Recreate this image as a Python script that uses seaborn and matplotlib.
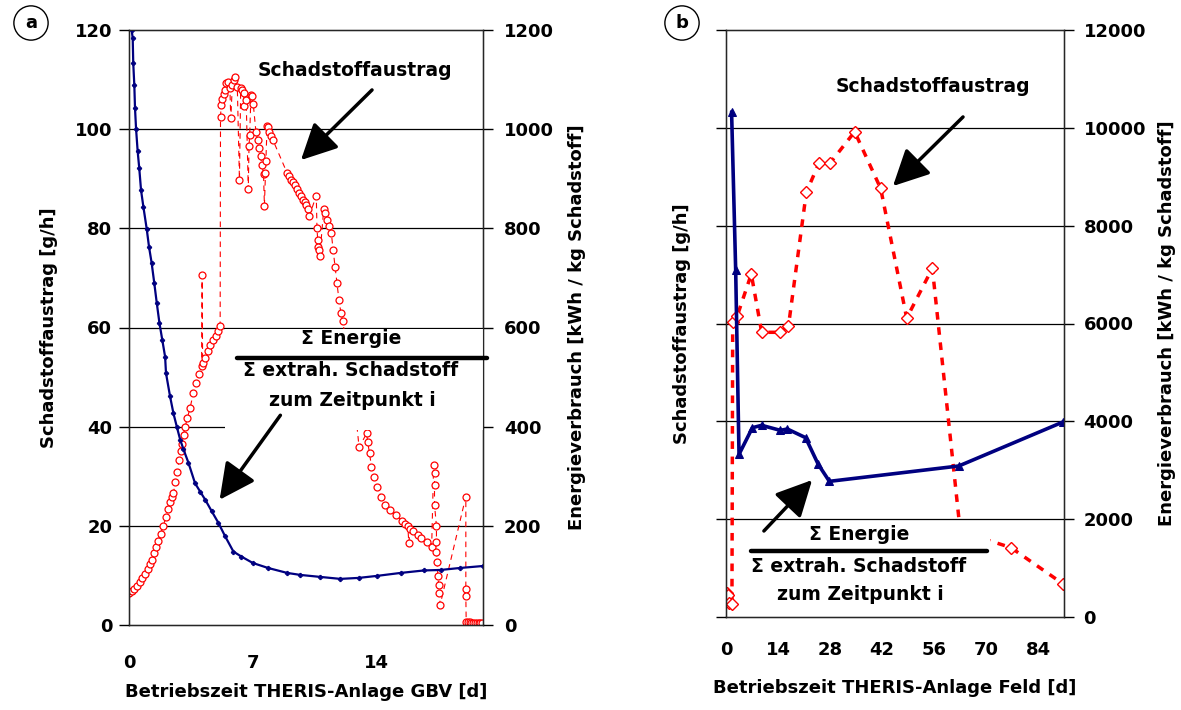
import numpy as np
import pandas as pd
import matplotlib
matplotlib.use("Agg")
import matplotlib.pyplot as plt
import seaborn as sns
from matplotlib.patches import Rectangle, FancyArrowPatch
from matplotlib.lines import Line2D

sns.set_style("white")
plt.rcParams['font.family'] = ['DejaVu Sans']
plt.rcParams['font.weight'] = 'bold'
plt.rcParams['axes.labelweight'] = 'bold'
plt.rcParams['text.color'] = 'black'
plt.rcParams['axes.labelcolor'] = 'black'
plt.rcParams['xtick.color'] = 'black'
plt.rcParams['ytick.color'] = 'black'

# ---- panel a: GBV ----
# Schadstoffaustrag [g/h] (red circles)
gbv_red_t = [0.0, 0.15, 0.3, 0.45, 0.6, 0.75, 0.9, 1.05, 1.18, 1.28, 1.4, 1.52, 1.65, 1.78, 1.94,
             2.08, 2.2, 2.32, 2.43, 2.51, 2.62, 2.72, 2.83, 2.92, 3.0, 3.08, 3.17, 3.3, 3.45, 3.64,
             3.8, 3.95, 4.1, 4.13, 4.16, 4.3, 4.45, 4.6, 4.75, 4.9, 5.05, 5.15,
             5.17, 5.21, 5.28, 5.36, 5.42, 5.49, 5.62, 5.70, 5.75, 5.84, 5.92, 6.0, 6.12, 6.24,
             6.31, 6.4, 6.48, 6.52, 6.62, 6.74, 6.78, 6.82, 6.89, 6.95, 7.02, 7.17, 7.26, 7.34,
             7.43, 7.52, 7.6, 7.65, 7.71, 7.73, 7.8, 7.86, 7.93, 8.03, 8.12,
             8.94, 9.05, 9.16, 9.27, 9.37, 9.48, 9.59, 9.7, 9.81, 9.92, 10.02, 10.13, 10.18,
             10.58, 10.62, 10.66, 10.7, 10.75, 10.78, 11.0, 11.1, 11.21, 11.32, 11.43, 11.53,
             11.64, 11.75, 11.86, 11.97, 12.07, 12.6,
             13.0, 13.43, 13.48, 13.59, 13.7, 13.87, 14.02, 14.23, 14.45, 14.77, 15.1, 15.42,
             15.6, 15.75, 15.81, 15.9, 16.07, 16.3, 16.5, 16.82, 17.1,
             17.21, 17.26, 17.26, 17.26, 17.37, 17.37, 17.37, 17.41, 17.45, 17.5, 17.54, 17.58,
             19.03, 19.03, 19.03, 19.05, 19.15, 19.25, 19.35, 19.45, 19.55, 19.65, 19.75, 19.85, 19.95]
gbv_red_val = [6.4, 6.8, 7.3, 7.9, 8.6, 9.4, 10.2, 11.2, 12.3, 13.2, 14.5, 15.7, 17.0, 18.4, 20.0,
               21.8, 23.3, 24.8, 25.8, 26.6, 28.8, 30.8, 33.3, 35.0, 36.5, 38.3, 40.0, 41.8, 43.8, 46.8,
               48.8, 50.6, 52.3, 70.5, 52.8, 53.8, 55.3, 56.4, 57.4, 58.3, 59.3, 60.3,
               102.5, 104.9, 106.0, 107.0, 108.0, 109.3, 109.5, 108.3, 102.2, 108.9, 109.9, 110.6, 108.5, 89.8,
               108.3, 107.9, 107.2, 104.7, 105.8, 87.9, 96.6, 98.9, 106.9, 106.6, 105.1, 99.5, 97.9, 96.2,
               94.5, 92.7, 91.0, 84.6, 91.1, 93.6, 100.7, 100.4, 99.5, 98.7, 97.9,
               91.1, 90.6, 89.8, 89.3, 88.8, 88.0, 87.1, 86.5, 85.8, 85.3, 84.8, 83.8, 82.4,
               86.6, 80.1, 77.7, 76.3, 75.7, 74.4, 83.8, 83.1, 81.7, 80.4, 79.1, 75.7,
               72.3, 69.0, 65.6, 63.0, 61.3, 50.0,
               35.8, 38.7, 37.0, 34.6, 31.9, 29.9, 27.9, 25.9, 24.2, 23.2, 22.2, 20.9,
               20.3, 19.9, 16.6, 19.4, 18.9, 18.2, 17.5, 16.8, 15.8,
               32.3, 30.6, 28.3, 24.2, 20.0, 16.8, 14.8, 12.8, 9.8, 8.1, 6.4, 4.1,
               25.9, 7.2, 5.9, 0.7, 0.6, 0.6, 0.5, 0.5, 0.4, 0.4, 0.4, 0.4, 0.5]

# Energieverbrauch [kWh / kg Schadstoff] (blue)
gbv_blue_t = [0.15, 0.21, 0.24, 0.3, 0.34, 0.4, 0.49, 0.58, 0.68, 0.81, 1.0, 1.13, 1.28, 1.43,
              1.57, 1.72, 1.88, 2.04, 2.09, 2.32, 2.51, 2.7, 2.89, 3.07, 3.36, 3.73, 4.02, 4.3,
              4.68, 5.05, 5.43, 5.9, 6.35, 7.0, 7.86, 8.94, 9.68, 10.8, 11.94, 12.98, 14.0,
              15.34, 16.66, 17.6, 18.7, 20.0]
gbv_blue_val = [1200, 1183, 1133, 1089, 1042, 1000, 955, 921, 877, 844, 799, 763, 730, 689,
                649, 609, 575, 541, 508, 461, 427, 400, 374, 355, 327, 286, 269, 253,
                229, 206, 179, 148, 138, 125, 115, 105, 101, 97, 93, 95, 99,
                105, 110, 111, 115, 119]

# ---- panel b: Feld ----
feld_red_t = [0.3, 0.6, 0.8, 1.6, 1.8, 3.0, 6.8, 9.6, 14.6, 16.8, 21.6, 25.0, 28.0, 34.6,
              41.6, 48.6, 55.5, 63.0, 76.6, 90.6]
feld_red_val = [4.9, 4.4, 2.9, 2.7, 60.3, 61.5, 70.1, 58.2, 58.2, 59.5, 86.8, 92.8, 92.8, 99.2,
                87.6, 61.1, 71.3, 17.5, 14.2, 6.8]

feld_blue_t = [1.5, 2.6, 3.5, 7.1, 9.6, 14.6, 16.5, 21.4, 24.8, 27.8, 62.6, 90.6]
feld_blue_val = [10330, 7100, 3325, 3870, 3918, 3816, 3843, 3666, 3121, 2773, 3087, 3986]

W, H = 1181, 710


def fpos(x, y):
    return x / W, 1 - y / H


fig = plt.figure(figsize=(W / 100, H / 100), dpi=100)

ax_a = fig.add_axes([129 / W, 1 - 625 / H, 354 / W, 595 / H])
ax_b = fig.add_axes([726 / W, 1 - 617 / H, 338 / W, 587 / H])

for ax in (ax_a, ax_b):
    for y in range(20, 120, 20):
        ax.axhline(y, color='black', lw=0.9, zorder=1)
    ax.set_ylim(0, 120)
    ax.set_yticks(range(0, 121, 20))
    for s in ax.spines.values():
        s.set_visible(True)
        s.set_color('black')
        s.set_linewidth(1.0)

# panel a
sns.lineplot(x=gbv_red_t, y=gbv_red_val, ax=ax_a, sort=False, estimator=None,
             color='red', linestyle=(0, (5, 4)), linewidth=0.8, marker='o', markersize=5,
             markerfacecolor='white', markeredgecolor='red', markeredgewidth=0.9, zorder=2)
ax_a.set_xlim(0, 20)
ax_a.set_xticks([0, 7, 14])
ax_a.add_patch(Rectangle((5.4, 39.3), 14.6, 20.3, facecolor='white', edgecolor='none', zorder=3))

ax_a2 = ax_a.twinx()
sns.lineplot(x=gbv_blue_t, y=gbv_blue_val, ax=ax_a2, sort=False, estimator=None,
             color='#000080', linewidth=1.6, marker='P', markersize=3,
             markeredgecolor='#000080', zorder=2)
ax_a2.set_ylim(0, 1200)
ax_a2.set_yticks(range(0, 1201, 200))

# panel b
sns.lineplot(x=feld_red_t, y=feld_red_val, ax=ax_b, sort=False, estimator=None,
             color='red', linestyle=(0, (2.2, 2.2)), linewidth=2.5, marker='D', markersize=6.5,
             markerfacecolor='white', markeredgecolor='red', markeredgewidth=1.0, zorder=2)
ax_b.set_xlim(0, 90.9)
ax_b.set_xticks(range(0, 85, 14))
ax_b.set_yticklabels([])
ax_b.add_patch(Rectangle((5, 2), 66, 17.6, facecolor='white', edgecolor='none', zorder=3))

ax_b2 = ax_b.twinx()
sns.lineplot(x=feld_blue_t, y=feld_blue_val, ax=ax_b2, sort=False, estimator=None,
             color='#000080', linewidth=2.6, marker='^', markersize=6,
             markeredgecolor='#000080', zorder=2)
ax_b2.set_ylim(0, 12000)
ax_b2.set_yticks(range(0, 12001, 2000))

for ax in (ax_a, ax_b, ax_a2, ax_b2):
    ax.tick_params(axis='both', direction='out', length=7, width=1, color='black',
                   labelcolor='black', labelsize=13,
                   left=(ax in (ax_a, ax_b)), right=(ax in (ax_a2, ax_b2)))
    for lab in ax.get_xticklabels() + ax.get_yticklabels():
        lab.set_fontweight('bold')
ax_a.tick_params(axis='x', pad=14)
ax_b.tick_params(axis='x', pad=10)
ax_a.tick_params(axis='y', pad=5)
ax_a2.tick_params(axis='y', pad=8)
ax_b2.tick_params(axis='y', pad=7)

lab_kw = dict(fontsize=13, fontweight='bold', color='black')
ax_a.set_xlabel('Betriebszeit THERIS-Anlage GBV [d]', **lab_kw)
ax_b.set_xlabel('Betriebszeit THERIS-Anlage Feld [d]', **lab_kw)
ax_a.set_ylabel('Schadstoffaustrag [g/h]', va='center', **lab_kw)
ax_b.set_ylabel('Schadstoffaustrag [g/h]', va='center', **lab_kw)
ax_a2.set_ylabel('Energieverbrauch [kWh / kg Schadstoff]', va='center', **lab_kw)
ax_b2.set_ylabel('Energieverbrauch [kWh / kg Schadstoff]', va='center', **lab_kw)
ax_a.xaxis.set_label_coords(0.5, (625 - 692) / 595)
ax_b.xaxis.set_label_coords(0.5, (617 - 688) / 587)
ax_a.yaxis.set_label_coords((49 - 129) / 354, 0.5)
ax_a2.yaxis.set_label_coords((577 - 129) / 354, 0.5)
ax_b.yaxis.set_label_coords((682 - 726) / 338, 0.5)
ax_b2.yaxis.set_label_coords((1167 - 726) / 338, 0.5)
for lab in (ax_a.xaxis.label, ax_b.xaxis.label):
    lab.set_va('center')

# annotations
txt = dict(fontsize=13.5, fontweight='bold', ha='center', va='center', color='black', zorder=10)
fig.text(*fpos(355, 70), 'Schadstoffaustrag', **txt)
fig.text(*fpos(351, 338), 'Σ Energie', **txt)
fig.text(*fpos(351, 370), 'Σ extrah. Schadstoff', **txt)
fig.text(*fpos(352, 400), 'zum Zeitpunkt i', **txt)
fig.text(*fpos(933, 87), 'Schadstoffaustrag', **txt)
fig.text(*fpos(859, 535), 'Σ Energie', **txt)
fig.text(*fpos(859, 566), 'Σ extrah. Schadstoff', **txt)
fig.text(*fpos(860, 594), 'zum Zeitpunkt i', **txt)

for (x0, x1, y) in [(237, 487, 358), (751, 987, 551)]:
    fig.add_artist(Line2D([x0 / W, x1 / W], [1 - y / H, 1 - y / H], color='black', lw=3.2,
                          transform=fig.transFigure, zorder=10))

arrows = [((374, 88), (299, 162)), ((282, 413), (218, 502)),
          ((965, 115), (891, 188)), ((762, 533), (814, 478))]
for a0, a1 in arrows:
    fig.add_artist(FancyArrowPatch(fpos(*a0), fpos(*a1), transform=fig.transFigure,
                                   arrowstyle='-|>,head_length=1.0,head_width=0.5',
                                   mutation_scale=22, lw=2.5, color='black', zorder=10))

circ = dict(fontsize=13, fontweight='bold', ha='center', va='center', color='black',
            bbox=dict(boxstyle='circle,pad=0.45', fc='white', ec='black', lw=1))
fig.text(*fpos(31, 23), 'a', **circ)
fig.text(*fpos(682, 23), 'b', **circ)

fig.savefig('out.png', dpi=100)
